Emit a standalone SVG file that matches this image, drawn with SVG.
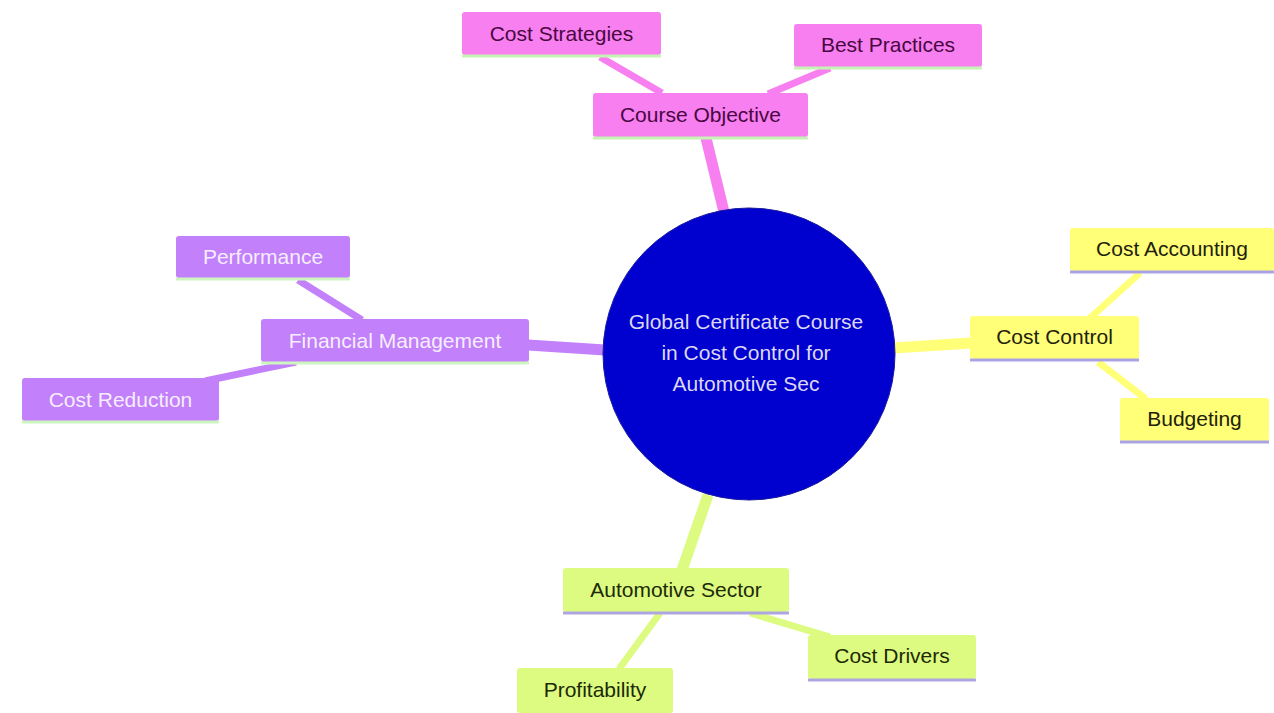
<svg xmlns="http://www.w3.org/2000/svg" width="1274" height="713" viewBox="0 0 1274 713">
<style>
text{font-family:"Liberation Sans",Arial,sans-serif;font-size:21px;text-anchor:middle}
.pk rect.b{fill:#f77ff0}.pk line.u{stroke:#c6f3b4}.pk text{fill:#4a0742}
.yl rect.b{fill:#ffff78}.yl line.u{stroke:#a9a3e3}.yl text{fill:#22220a}
.pu rect.b{fill:#c280fa}.pu line.u{stroke:#cdf5c0}.pu text{fill:#f6eefe}
.gr rect.b{fill:#dcfb80}.gr line.u{stroke:#ada6e2}.gr text{fill:#1c2a06}
line.u{stroke-width:3}
.e{fill:none;stroke-linecap:butt}
.e1{stroke-width:11}.e2{stroke-width:7}
</style>
<rect width="1274" height="713" fill="#ffffff"/>
<g id="connectors">
<line class="e e1" x1="724" y1="212" x2="706" y2="138" stroke="#f77ff0"/>
<line class="e e2" x1="600" y1="57" x2="662" y2="93" stroke="#f77ff0"/>
<line class="e e2" x1="830" y1="68" x2="768" y2="94" stroke="#f77ff0"/>
<line class="e e1" x1="893" y1="348" x2="971" y2="343" stroke="#ffff78"/>
<line class="e e2" x1="1140" y1="273" x2="1090" y2="318" stroke="#ffff78"/>
<line class="e e2" x1="1098" y1="362" x2="1146" y2="399" stroke="#ffff78"/>
<line class="e e1" x1="528" y1="345" x2="605" y2="350" stroke="#c280fa"/>
<line class="e e2" x1="298" y1="280" x2="362" y2="320" stroke="#c280fa"/>
<line class="e e2" x1="205" y1="381" x2="296" y2="362" stroke="#c280fa"/>
<line class="e e1" x1="708" y1="495" x2="682" y2="570" stroke="#dcfb80"/>
<line class="e e2" x1="660" y1="613" x2="619" y2="669" stroke="#dcfb80"/>
<line class="e e2" x1="750" y1="613" x2="830" y2="637" stroke="#dcfb80"/>
</g>
<g id="root">
<circle cx="749" cy="354" r="146" fill="#0000cf" stroke="#1a1aa0" stroke-width="1"/>
<text x="746" y="329" fill="#dcd8f2">Global Certificate Course</text>
<text x="746" y="360" fill="#dcd8f2">in Cost Control for</text>
<text x="746" y="391" fill="#dcd8f2">Automotive Sec</text>
</g>
<g id="course-objective" class="pk">
<rect class="b" x="593" y="93" width="215" height="44" rx="3"/>
<line class="u" x1="593" y1="138" x2="808" y2="138"/>
<text x="700.5" y="122">Course Objective</text>
</g>
<g id="cost-strategies" class="pk">
<rect class="b" x="462" y="12" width="199" height="43" rx="3"/>
<line class="u" x1="462" y1="56" x2="661" y2="56"/>
<text x="561.5" y="41">Cost Strategies</text>
</g>
<g id="best-practices" class="pk">
<rect class="b" x="794" y="24" width="188" height="43" rx="3"/>
<line class="u" x1="794" y1="68" x2="982" y2="68"/>
<text x="888" y="52">Best Practices</text>
</g>
<g id="cost-control" class="yl">
<rect class="b" x="970" y="316" width="169" height="43" rx="3"/>
<line class="u" x1="970" y1="360" x2="1139" y2="360"/>
<text x="1054.5" y="344">Cost Control</text>
</g>
<g id="cost-accounting" class="yl">
<rect class="b" x="1070" y="228" width="204" height="43" rx="3"/>
<line class="u" x1="1070" y1="272" x2="1274" y2="272"/>
<text x="1172" y="256">Cost Accounting</text>
</g>
<g id="budgeting" class="yl">
<rect class="b" x="1120" y="398" width="149" height="43" rx="3"/>
<line class="u" x1="1120" y1="442" x2="1269" y2="442"/>
<text x="1194.5" y="426">Budgeting</text>
</g>
<g id="financial-management" class="pu">
<rect class="b" x="261" y="319" width="268" height="43" rx="3"/>
<line class="u" x1="261" y1="363" x2="529" y2="363"/>
<text x="395" y="348">Financial Management</text>
</g>
<g id="performance" class="pu">
<rect class="b" x="176" y="236" width="174" height="42" rx="3"/>
<line class="u" x1="176" y1="279" x2="350" y2="279"/>
<text x="263" y="264">Performance</text>
</g>
<g id="cost-reduction" class="pu">
<rect class="b" x="22" y="378" width="197" height="43" rx="3"/>
<line class="u" x1="22" y1="422" x2="219" y2="422"/>
<text x="120.5" y="407">Cost Reduction</text>
</g>
<g id="automotive-sector" class="gr">
<rect class="b" x="563" y="568" width="226" height="44" rx="3"/>
<line class="u" x1="563" y1="613" x2="789" y2="613"/>
<text x="676" y="597">Automotive Sector</text>
</g>
<g id="cost-drivers" class="gr">
<rect class="b" x="808" y="635" width="168" height="44" rx="3"/>
<line class="u" x1="808" y1="680" x2="976" y2="680"/>
<text x="892" y="663">Cost Drivers</text>
</g>
<g id="profitability" class="gr">
<rect class="b" x="517" y="668" width="156" height="45" rx="3"/>
<text x="595" y="697">Profitability</text>
</g>
</svg>
